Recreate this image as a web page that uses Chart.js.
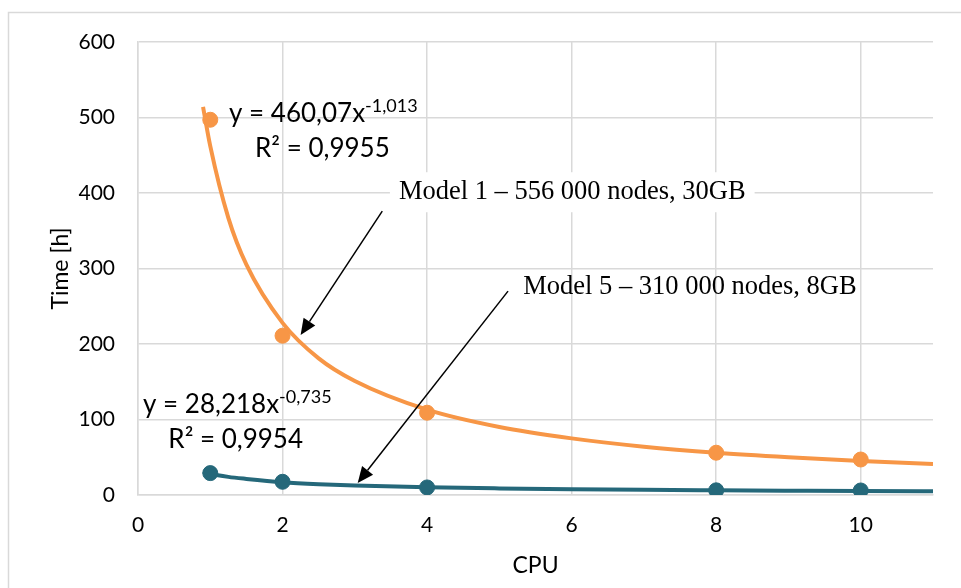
<!DOCTYPE html>
<html>
<head>
<meta charset="utf-8">
<script src="https://cdn.jsdelivr.net/npm/chart.js@4.4.1/dist/chart.umd.min.js"></script>
<style>
  html, body { margin: 0; padding: 0; background: #fff; }
  #wrap { width: 961px; height: 588px; position: relative; }
</style>
</head>
<body>
<div id="wrap"><canvas id="myChart"></canvas></div>
<script>
// measured points
const cpu = [1, 2, 4, 8, 10];
const model1Time = [497, 211, 109, 56, 47];
const model5Time = [29, 17.5, 10, 6.2, 6];

// power trendlines, values
const trendX = [0.9, 1, 1.25, 1.5, 2, 2.5, 3, 4, 5, 6, 7, 8, 9, 10, 11];
const trend1 = [514, 462, 367, 305, 228, 181, 151, 113, 90, 75, 64, 56, 50, 45, 41];
const trend5 = [31, 28.2, 24, 21.3, 16.9, 14.3, 12.6, 10.2, 8.7, 7.6, 6.8, 6.2, 5.7, 5.2, 4.9];

const xTicks = [0, 2, 4, 6, 8, 10];
const yTicks = [0, 100, 200, 300, 400, 500, 600];

const ORANGE = '#F79646';
const TEAL = '#25687A';
const GRID = '#d9d9d9';

const pts = (xs, ys) => xs.map((x, i) => ({ x: x, y: ys[i] }));

// labels and arrows, placed in data units
const notes = [
    { main: 'y = 460,07x', sup: '-1,013', x: 1.26, y: 494 },
    { main: 'y = 28,218x', sup: '-0,735', x: 0.07, y: 109 }
];
const r2 = [
    { text: 'R² = 0,9955', x: 1.62, y: 448 },
    { text: 'R² = 0,9954', x: 0.42, y: 62 }
];
const modelLabels = [
    { text: 'Model 1 – 556 000 nodes, 30GB', x: 3.61, y: 401, box: true },
    { text: 'Model 5 – 310 000 nodes, 8GB', x: 5.33, y: 276, box: false }
];
const arrows = [
    { from: [3.38, 376], to: [2.25, 212] },
    { from: [5.12, 270], to: [3.04, 16] }
];

const border = {
    id: 'border',
    beforeDraw(chart) {
        const c = chart.ctx;
        c.save();
        c.fillStyle = '#fff';
        c.fillRect(0, 0, chart.width, chart.height);
        c.strokeStyle = GRID;
        c.lineWidth = 1.5;
        c.strokeRect(8.5, 12.5, 1200, 1200);
        c.restore();
    }
};

const annotate = {
    id: 'annotate',
    afterDatasetsDraw(chart) {
        const c = chart.ctx;
        const sx = chart.scales.x, sy = chart.scales.y;
        c.save();

        // model labels
        c.font = '26.5px "Liberation Serif", "Times New Roman", serif';
        c.textBaseline = 'middle';
        c.textAlign = 'left';
        modelLabels.forEach(m => {
            const px = sx.getPixelForValue(m.x), py = sy.getPixelForValue(m.y);
            if (m.box) {
                const w = c.measureText(m.text).width;
                c.fillStyle = '#fff';
                c.fillRect(px - 9, py - 20, w + 18, 40);
            }
            c.fillStyle = '#000';
            c.fillText(m.text, px, py);
        });

        // arrows
        arrows.forEach(a => {
            const x1 = sx.getPixelForValue(a.from[0]), y1 = sy.getPixelForValue(a.from[1]);
            const x2 = sx.getPixelForValue(a.to[0]), y2 = sy.getPixelForValue(a.to[1]);
            const ang = Math.atan2(y2 - y1, x2 - x1);
            const hl = 16, hw = 7;
            const bx = x2 - hl * Math.cos(ang), by = y2 - hl * Math.sin(ang);
            c.strokeStyle = '#000';
            c.lineWidth = 1.5;
            c.beginPath();
            c.moveTo(x1, y1);
            c.lineTo(bx, by);
            c.stroke();
            c.fillStyle = '#000';
            c.beginPath();
            c.moveTo(x2, y2);
            c.lineTo(bx + hw * Math.sin(ang), by - hw * Math.cos(ang));
            c.lineTo(bx - hw * Math.sin(ang), by + hw * Math.cos(ang));
            c.closePath();
            c.fill();
        });

        // trendline equations
        c.fillStyle = '#000';
        c.textBaseline = 'alphabetic';
        notes.forEach(n => {
            const px = sx.getPixelForValue(n.x), py = sy.getPixelForValue(n.y);
            c.font = '26px Lato, sans-serif';
            c.fillText(n.main, px, py);
            const w = c.measureText(n.main).width;
            c.font = '18px Lato, sans-serif';
            c.fillText(n.sup, px + w, py - 10);
        });
        c.font = '26px Lato, sans-serif';
        r2.forEach(r => {
            c.fillText(r.text, sx.getPixelForValue(r.x), sy.getPixelForValue(r.y));
        });
        c.restore();
    }
};

document.addEventListener('DOMContentLoaded', () => {
    const ctx = document.getElementById('myChart').getContext('2d');

    new Chart(ctx, {
        type: 'scatter',
        data: {
            datasets: [
                {
                    label: 'Model 1 trend',
                    data: pts(trendX, trend1),
                    showLine: true,
                    borderColor: ORANGE,
                    borderWidth: 4,
                    pointRadius: 0,
                    cubicInterpolationMode: 'monotone',
                    order: 2
                },
                {
                    label: 'Model 5 trend',
                    data: pts(trendX, trend5),
                    showLine: true,
                    borderColor: TEAL,
                    borderWidth: 4,
                    pointRadius: 0,
                    cubicInterpolationMode: 'monotone',
                    order: 2
                },
                {
                    label: 'Model 1',
                    data: pts(cpu, model1Time),
                    backgroundColor: ORANGE,
                    borderColor: ORANGE,
                    pointRadius: 7.5,
                    order: 1
                },
                {
                    label: 'Model 5',
                    data: pts(cpu, model5Time),
                    backgroundColor: TEAL,
                    borderColor: TEAL,
                    pointRadius: 7.5,
                    order: 1
                }
            ]
        },
        options: {
            responsive: true,
            maintainAspectRatio: false,
            animation: false,
            layout: { padding: { left: 38, top: 42, right: 28, bottom: 0 } },
            plugins: {
                legend: { display: false },
                tooltip: { enabled: false }
            },
            scales: {
                x: {
                    type: 'linear',
                    min: 0,
                    max: 11,
                    afterBuildTicks: s => { s.ticks = xTicks.map(v => ({ value: v })); },
                    afterFit: s => { s.height = 93; },
                    ticks: { color: '#000', font: { family: 'Lato', size: 21 }, padding: 18, maxRotation: 0 },
                    grid: { color: GRID, lineWidth: 1.5, drawTicks: false },
                    border: { color: GRID, width: 1.5 },
                    title: { display: true, text: 'CPU', color: '#000', font: { family: 'Lato', size: 23 }, padding: { top: 0, bottom: 9 } }
                },
                y: {
                    min: 0,
                    max: 600,
                    afterBuildTicks: s => { s.ticks = yTicks.map(v => ({ value: v })); },
                    afterFit: s => { s.width = 100; },
                    ticks: { color: '#000', font: { family: 'Lato', size: 21 }, padding: 23 },
                    grid: { color: GRID, lineWidth: 1.5, drawTicks: false },
                    border: { color: GRID, width: 1.5 },
                    title: { display: true, text: 'Time [h]', color: '#000', font: { family: 'Lato', size: 23 }, padding: { top: 9, bottom: 0 } }
                }
            }
        },
        plugins: [border, annotate]
    });
});
</script>
</body>
</html>
